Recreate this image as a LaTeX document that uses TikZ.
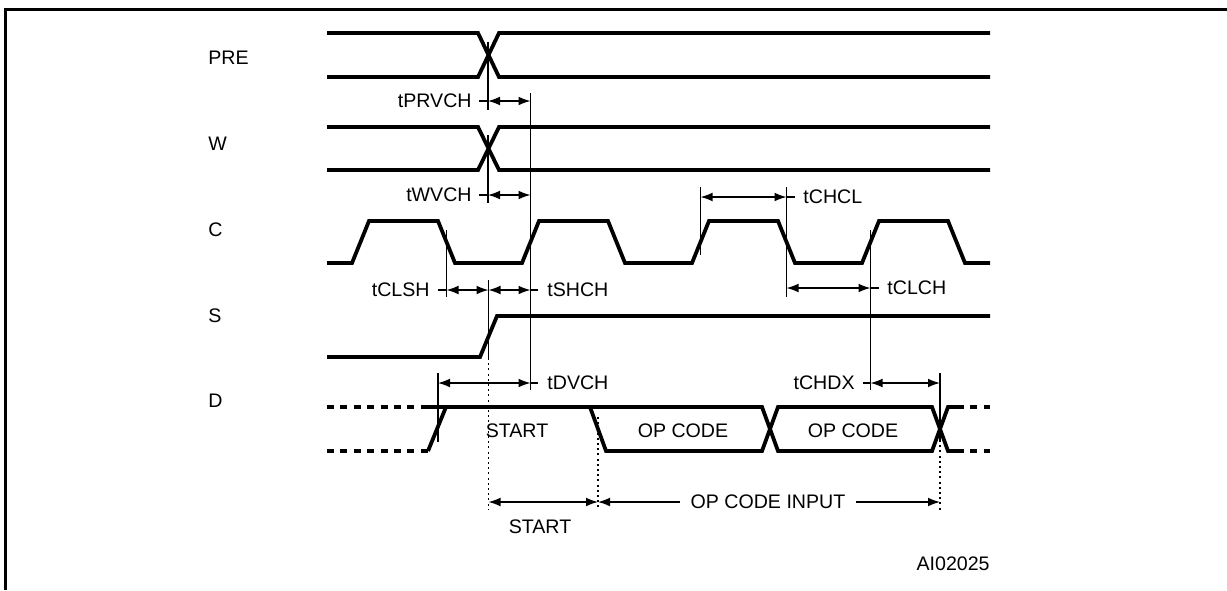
\documentclass[tikz,border=0pt]{standalone}
\usepackage{fontspec}
\setmainfont{Liberation Sans}
\usetikzlibrary{arrows.meta}

\begin{document}
\begin{tikzpicture}[x=0.5pt, y=-0.5pt, >={Latex[length=6pt,width=4.4pt]},
		sig/.style={line width=1.9pt, line join=miter},
		sigdash/.style={sig, dash pattern=on 3.5pt off 3.2pt},
		dim/.style={line width=0.65pt},
		guide/.style={line width=0.65pt, dash pattern=on 1pt off 1.6pt},
		every node/.style={font=\fontsize{9.8}{12}\selectfont, inner sep=0pt}]
		\useasboundingbox (0,0) rectangle (1227,590);
		%\draw [help lines] (0,0) grid (1227,590);
		\draw [line width=1.5pt] (5.5,590) -- (5.5,9) -- (1227,9);
		% signal names
		\node [anchor=west] (lpre) at (208,58) {PRE};
		\node [anchor=west] (lw) at (208,144) {W};
		\node [anchor=west] (lc) at (208,230) {C};
		\node [anchor=west] (ls) at (208,316) {S};
		\node [anchor=west] (ld) at (208,401) {D};
		% PRE and W
		\draw [sig] (327,33) -- (478,33) -- (499,77) -- (990,77);
		\draw [sig] (327,77) -- (478,77) -- (499,33) -- (990,33);
		\draw [sig] (327,127) -- (478,127) -- (499,170) -- (990,170);
		\draw [sig] (327,170) -- (478,170) -- (499,127) -- (990,127);
		% C
		\draw [sig] (327,263) -- (352,263) -- (369,221) -- (438,221) -- (455,263) -- (522,263) -- (539,221) -- (608,221) -- (625,263) -- (692,263) -- (709,221) -- (778,221) -- (795,263) -- (862,263) -- (879,221) -- (948,221) -- (965,263) -- (990,263);
		% S
		\draw [sig] (327,357) -- (480,357) -- (497,316) -- (990,316);
		% D
		\draw [sigdash] (327,407) -- (422,407);
		\draw [sigdash] (327,451) -- (428,451);
		\draw [sig] (428,451) -- (446,407);
		\draw [sig] (422,407) -- (762,407) -- (778,451) -- (932,451) -- (948,407) -- (957,407);
		\draw [sig] (590,407) -- (606,451) -- (762,451) -- (778,407) -- (932,407) -- (948,451) -- (957,451);
		\draw [sigdash] (957,407) -- (990,407);
		\draw [sigdash] (957,451) -- (990,451);
		\node (dstart) at (517,431) {START};
		\node (dop1) at (683,431) {OP CODE};
		\node (dop2) at (853,431) {OP CODE};
		% timing marks
		\draw [dim] (488,42) -- (488,110);
		\draw [dim] (488,135) -- (488,203);
		\draw [dim] (530.5,93) -- (530.5,390);
		\draw [dim] (479,101) -- (488,101);
		\draw [dim, <->] (488,101) -- (530.5,101);
		\node [anchor=east] (tprvch) at (472,101) {tPRVCH};
		\draw [dim] (479,195) -- (488,195);
		\draw [dim, <->] (488,195) -- (530.5,195);
		\node [anchor=east] (twvch) at (472,195) {tWVCH};
		\draw [dim] (446.5,230) -- (446.5,297);
		\draw [dim] (488.5,280) -- (488.5,358);
		\draw [guide] (488.5,358) -- (488.5,510);
		\draw [dim] (438,290) -- (446.5,290);
		\draw [dim, <->] (446.5,290) -- (488.5,290);
		\draw [dim, <->] (488.5,290) -- (530.5,290);
		\draw [dim] (530.5,290) -- (538,290);
		\node [anchor=east] (tclsh) at (430,290) {tCLSH};
		\node [anchor=west] (tshch) at (547,290) {tSHCH};
		\draw [dim] (700.5,187) -- (700.5,255);
		\draw [dim] (786.5,187) -- (786.5,297);
		\draw [dim, <->] (700.5,197) -- (786.5,197);
		\draw [dim] (786.5,197) -- (795,197);
		\node [anchor=west] (tchcl) at (803,197) {tCHCL};
		\draw [dim] (870.5,230) -- (870.5,390);
		\draw [dim, <->] (786.5,288) -- (870.5,288);
		\draw [dim] (870.5,288) -- (879,288);
		\node [anchor=west] (tclch) at (887,288) {tCLCH};
		\draw [dim] (438,373) -- (438,442);
		\draw [dim, <->] (438,383) -- (530.5,383);
		\draw [dim] (530.5,383) -- (538,383);
		\node [anchor=west] (tdvch) at (547,383) {tDVCH};
		\draw [dim] (863,383) -- (870.5,383);
		\draw [dim, <->] (870.5,383) -- (940,383);
		\node [anchor=east] (tchdx) at (855,383) {tCHDX};
		\draw [dim] (940,373) -- (940,440);
		\draw [guide] (940,440) -- (940,510);
		\draw [guide] (598,417) -- (598,510);
		% input phases
		\draw [dim, <->] (488.5,502) -- (598,502);
		\node (pstart) at (540,527) {START};
		\node [inner sep=5pt] (popin) at (768,502) {OP CODE INPUT};
		\draw [dim, ->] (popin.west) -- (598,502);
		\draw [dim, ->] (popin.east) -- (940,502);
		\node [anchor=east] (figid) at (990,564) {AI02025};
	\end{tikzpicture}
\end{document}
